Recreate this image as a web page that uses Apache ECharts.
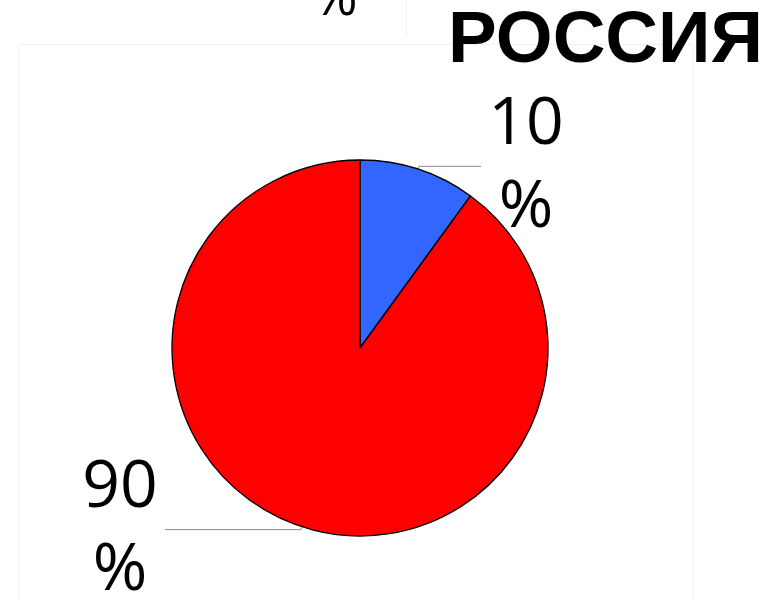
<!DOCTYPE html>
<html>
<head>
<meta charset="utf-8">
<script src="https://cdn.jsdelivr.net/npm/echarts@6/dist/echarts.min.js"></script>
<style>
    html, body { margin: 0; padding: 0; background: #fff; }
    #chart { width: 769px; height: 599px; }
</style>
</head>
<body>
<div id="chart"></div>
<script>
// данные диаграммы
const titleText = 'РОССИЯ';
const sliceNames = ['Да', 'Нет'];
const sliceValues = [10, 90];
const sliceColors = ['#3366ff', '#ff0000'];
const lineLengths = [62, 136];

let chart = echarts.init(document.getElementById('chart'));

let pieData = sliceNames.map((name, i) => ({
    name: name,
    value: sliceValues[i],
    itemStyle: { color: sliceColors[i] },
    labelLine: { length: 3, length2: lineLengths[i] }
}));

let option = {
    backgroundColor: '#fff',
    animation: false,
    title: {
        text: titleText,
        right: 6,
        top: 5,
        padding: 0,
        textStyle: {
            fontFamily: 'Liberation Sans',
            fontWeight: 'bold',
            fontSize: 73,
            color: '#000'
        }
    },
    graphic: [
        {
            type: 'rect',
            silent: true,
            z: -10,
            shape: { x: 18.5, y: 44.5, width: 675, height: 600 },
            style: { fill: 'none', stroke: '#f1f1f1', lineWidth: 1 }
        },
        {
            type: 'line',
            silent: true,
            z: -10,
            shape: { x1: 406.5, y1: 0, x2: 406.5, y2: 35 },
            style: { stroke: '#eeeeee', lineWidth: 1 }
        },
        {
            // обрезанная подпись соседней диаграммы
            type: 'text',
            silent: true,
            x: 313,
            y: -27,
            style: {
                text: '%',
                font: '54px "Open Sans"',
                fill: '#000'
            }
        }
    ],
    series: [
        {
            type: 'pie',
            center: [360, 348],
            radius: 188,
            startAngle: 90,
            clockwise: true,
            avoidLabelOverlap: false,
            itemStyle: {
                borderColor: '#000',
                borderWidth: 1.3
            },
            label: {
                show: true,
                formatter: '{n|{c}}\n{n|%}',
                distanceToLabelLine: 9,
                rich: {
                    n: {
                        fontFamily: 'Open Sans',
                        fontSize: 66,
                        lineHeight: 83,
                        width: 72,
                        align: 'center',
                        color: '#000'
                    }
                }
            },
            labelLine: {
                show: true,
                smooth: false,
                lineStyle: { color: '#888', width: 1 }
            },
            emphasis: { disabled: true },
            data: pieData
        }
    ]
};

chart.setOption(option);
</script>
</body>
</html>
